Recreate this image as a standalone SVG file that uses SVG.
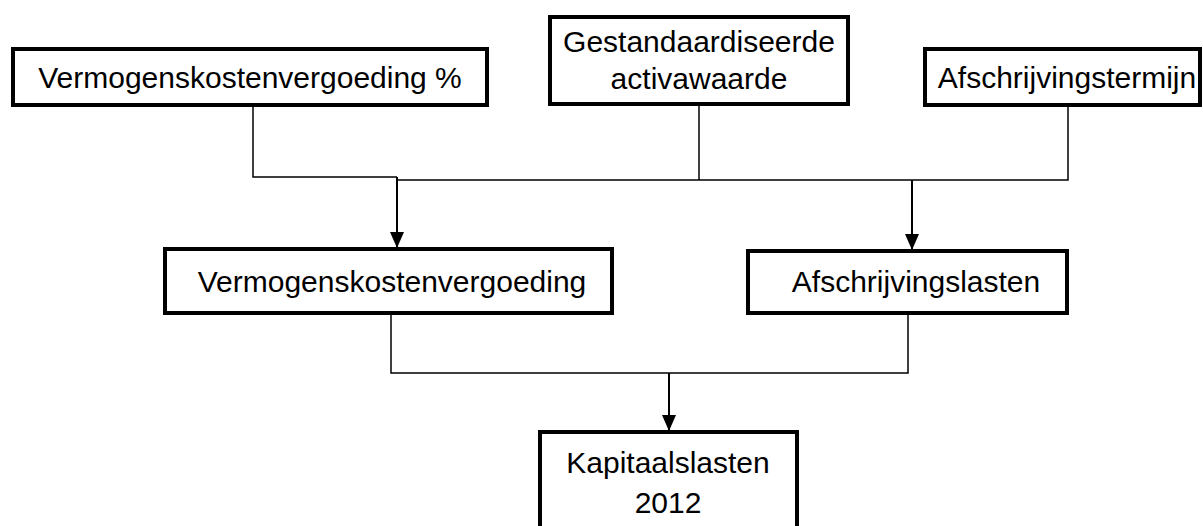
<svg xmlns="http://www.w3.org/2000/svg" width="1203" height="526" viewBox="0 0 1203 526">
<style>
.box{fill:#fff;stroke:#000;stroke-width:4}
.t{font-family:"Liberation Sans",Arial,Helvetica,sans-serif;font-size:30px;fill:#000;text-anchor:middle}
.c{fill:none;stroke:#000;stroke-width:1.5}
.a{fill:none;stroke:#000;stroke-width:2;marker-end:url(#ah)}
</style>
<defs>
<marker id="ah" markerWidth="16" markerHeight="14" refX="16" refY="7" orient="auto" markerUnits="userSpaceOnUse" viewBox="0 0 16 14">
<path d="M0,0 L16,7 L0,14 z" fill="#000"/>
</marker>
</defs>
<g id="connectors">
<polyline class="c" points="253,105 253,177 397,177"/>
<polyline class="c" points="699,104 699,180"/>
<polyline class="c" points="1068,105 1068,180 397,180"/>
<line class="a" x1="397" y1="177" x2="397" y2="248"/>
<line class="a" x1="912" y1="180" x2="912" y2="250"/>
<polyline class="c" points="391,313 391,373 908,373 908,313"/>
<line class="a" x1="669" y1="373" x2="669" y2="431"/>
</g>
<g id="n1"><rect class="box" x="13" y="49" width="474" height="56"/><text class="t" x="250" y="88">Vermogenskostenvergoeding %</text></g>
<g id="n2"><rect class="box" x="550" y="17" width="298" height="87"/><text class="t" x="699" y="52">Gestandaardiseerde</text><text class="t" x="699" y="89">activawaarde</text></g>
<g id="n3"><rect class="box" x="925" y="49" width="275" height="56"/><text class="t" x="1067" y="88">Afschrijvingstermijn</text></g>
<g id="n4"><rect class="box" x="165" y="249" width="447" height="64"/><text class="t" x="392" y="292">Vermogenskostenvergoeding</text></g>
<g id="n5"><rect class="box" x="748" y="251" width="319" height="62"/><text class="t" x="916" y="292">Afschrijvingslasten</text></g>
<g id="n6"><rect class="box" x="540" y="432" width="257" height="100"/><text class="t" x="668" y="473">Kapitaalslasten</text><text class="t" x="668" y="513">2012</text></g>
</svg>
